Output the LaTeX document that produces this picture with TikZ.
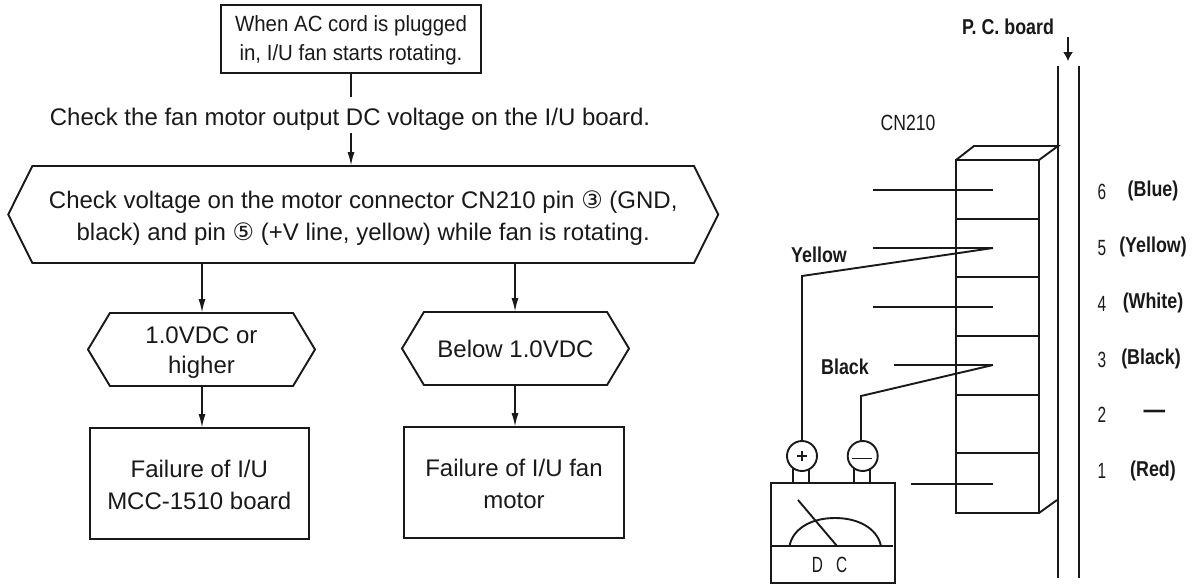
\documentclass[tikz,border=0pt]{standalone}
\usepackage{fontspec}
\setmainfont{Liberation Sans}
\newfontfamily\circfont{DejaVu Sans}
\newfontfamily\startfont[FakeStretch=0.93]{Liberation Sans}
\newfontfamily\boldnarrow[FakeStretch=0.83]{Liberation Sans Bold}
\newfontfamily\thinnarrow[FakeStretch=0.7]{Liberation Sans}
\newfontfamily\cnfont[FakeStretch=0.8]{Liberation Sans}
\usetikzlibrary{arrows.meta,shapes.symbols,calc}
\tikzset{
  every node/.style={inner sep=0pt,outer sep=0pt,align=center,text=black!90},
  line/.style={draw=black!90,line width=1.9pt},
  flow/.style={line,-{Latex[length=14pt,width=7pt]}},
  thin line/.style={draw=black!90,line width=1.5pt},
  boxn/.style={line,font=\fontsize{24}{32}\selectfont},
  hexn/.style={line,signal,signal to=west and east,font=\fontsize{24}{32}\selectfont},
  smallhex/.style={hexn,signal pointer angle=118,minimum width=227pt,minimum height=73pt},
  ftext/.style={font=\fontsize{24}{32}\selectfont},
  lab/.style={font=\boldnarrow\fontsize{21.5}{24}\selectfont},
  num/.style={font=\thinnarrow\fontsize{22}{24}\selectfont},
  term/.style={circle,line,minimum size=30pt},
}
\newcommand{\pinmark}[1]{{\circfont\fontsize{24}{32}\selectfont #1}}
\begin{document}
\begin{tikzpicture}[x=1pt,y=-1pt]
\useasboundingbox (0,0) rectangle (1195,584);
% flowchart
\node[boxn,minimum width=260pt,minimum height=68pt,font=\startfont\fontsize{22}{29}\selectfont] (start) at (351,39) {\rule{0pt}{19pt}When AC cord is plugged\\in, I/U fan starts rotating.};
\node[ftext,minimum height=36pt,text height=21pt,text depth=0pt] (chk) at (350,115) {Check the fan motor output DC voltage on the I/U board.};
\node[hexn,signal pointer angle=127,minimum width=710pt,minimum height=97pt] (main) at (363.2,214.5) {\rule{0pt}{24pt}Check voltage on the motor connector CN210 pin \pinmark{③} (GND,\\black) and pin \pinmark{⑤} (+V line, yellow) while fan is rotating.};
\node[smallhex] (hi) at (201.5,349.5) {\rule{0pt}{23pt}1.0VDC or\\[-2pt]higher};
\node[smallhex] (lo) at (515.5,348.5) {Below 1.0VDC};
\node[boxn,minimum width=219.4pt,minimum height=111pt] (f1) at (199.3,483.5) {\rule{0pt}{20pt}Failure of I/U\\MCC-1510 board};
\node[boxn,minimum width=219.3pt,minimum height=111pt] (f2) at (514,482.5) {\rule{0pt}{20pt}Failure of I/U fan\\motor};
\draw[line] (start.south) -- (start.south |- chk.north);
\draw[flow] (start.south |- chk.south) -- (start.south |- main.north);
\coordinate (ma) at (202,263);
\coordinate (mb) at (515,263);
\draw[flow] (ma) -- (ma |- hi.north);
\draw[flow] (mb) -- (mb |- lo.north);
\draw[flow] (ma |- hi.south) -- (ma |- f1.north);
\draw[flow] (mb |- lo.south) -- (mb |- f2.north);
% board
\node[lab] (pcb) at (1008,27) {P. C. board};
\coordinate (pa) at (1068,37); \coordinate (pb) at (1068,61);
\draw[thin line,-{Latex[length=9pt,width=10pt]}] (pa) -- (pb);
\coordinate (b1t) at (1058,66); \coordinate (b1b) at (1058,578);
\coordinate (b2t) at (1079,66); \coordinate (b2b) at (1079,578);
\draw[thin line] (b1t) -- (b1b);
\draw[line] (b2t) -- (b2b);
\node[font=\cnfont\fontsize{22}{24}\selectfont] (cn) at (908,123) {CN210};
% connector
\draw[line] (956,513) -- (956,160) -- (1039,160) -- (1039,513) -- cycle;
\draw[line] (956,160) -- (974,146) -- (1058,146) -- (1039,160);
\draw[line] (1039,513) -- (1057,500);
\foreach \y in {219,277,336,395,453} \draw[thin line] (956,\y) -- (1039,\y);
\draw[line] (873,190) -- (993,190);
\draw[line] (873,248) -- (993,248);
\draw[line] (873,307) -- (993,307);
\draw[line] (894,365) -- (993,365);
\draw[line] (911,484) -- (993,484);
% meter
\node[term] (tp) at (802,456) {};
\node[term] (tm) at (862.7,456) {};
\draw[thin line] (797,456) -- (807,456) (802,451) -- (802,461);
\draw[line] (852,458.5) -- (872,458.5);
\draw[line] (993,248) -- (802,276) -- (tp.north);
\draw[line] (993,365) -- (861,396) -- (861,441);
\node[line,minimum width=124pt,minimum height=100pt] (meter) at (833,533) {};
\draw[line] (793,469) -- (793,483) (809,469) -- (809,483);
\draw[line] (854,469) -- (854,483) (870,469) -- (870,483);
\draw[line] (771,546) -- (893,546);
\draw[line] (789.5,546) .. controls (793,528) and (812,518) .. (835,518) .. controls (858,518) and (877,528) .. (881,546);
\draw[line] (798,500) -- (837,546);
\node[num] (dc) at (829.5,565) {D\hspace{13pt}C};
% labels
\node[lab] (ly) at (819,255) {Yellow};
\node[lab] (lk) at (845,367) {Black};
\node[num] (n6) at (1102,192) {6};
\node[num] (n5) at (1102,248) {5};
\node[num] (n4) at (1102,304) {4};
\node[num] (n3) at (1102,360) {3};
\node[num] (n2) at (1102,415) {2};
\node[num] (n1) at (1102,471) {1};
\node[lab] (c6) at (1153,191) {(Blue)};
\node[lab] (c5) at (1153,247) {(Yellow)};
\node[lab] (c4) at (1153,303) {(White)};
\node[lab] (c3) at (1151,359) {(Black)};
\node[lab,font=\boldnarrow\fontsize{26}{28}\selectfont] (c2) at (1154.5,414) {—};
\node[lab] (c1) at (1153,471) {(Red)};
\end{tikzpicture}
\end{document}
